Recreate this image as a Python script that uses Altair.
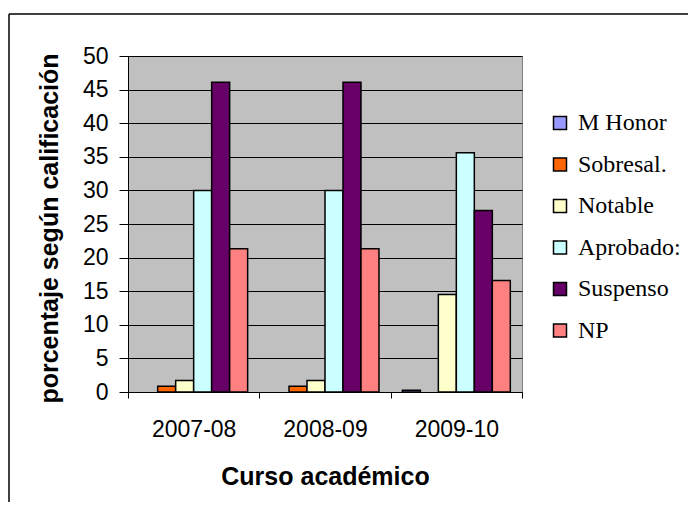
import altair as alt
import pandas as pd

cursos = ["2007-08", "2008-09", "2009-10"]
series = ["M Honor", "Sobresal.", "Notable", "Aprobado:", "Suspenso", "NP"]
colores = ["#9999FF", "#FF6600", "#FFFFCC", "#CCFFFF", "#660066", "#FF8080"]
m_honor = [0, 0, 0.25]
sobresal = [0.85, 0.85, 0]
notable = [1.7, 1.7, 14.5]
aprobado = [30.0, 30.0, 35.6]
suspenso = [46.1, 46.1, 27.0]
np_vals = [21.3, 21.3, 16.6]

valores = [m_honor, sobresal, notable, aprobado, suspenso, np_vals]
rows = []
for s, vals in zip(series, valores):
    for c, v in zip(cursos, vals):
        rows.append({"curso": c, "serie": s, "valor": v})
df = pd.DataFrame(rows)

bars = alt.Chart(df).transform_filter("datum.valor > 0").mark_bar(
    stroke="black", strokeWidth=1.5
).encode(
    x=alt.X("curso:N", sort=cursos,
            scale=alt.Scale(paddingInner=0, paddingOuter=0),
            axis=alt.Axis(title="Curso académico", labelAngle=0, tickBand="extent",
                          tickSize=6, labelPadding=20, labelFontSize=23,
                          labelFont="Liberation Sans", labelColor="black",
                          titleFont="Liberation Sans", titleFontSize=25, titleFontWeight="bold",
                          titleColor="black", titleBaseline="alphabetic", titleX=197, titleY=92,
                          titleAnchor="middle",
                          domainColor="black", tickColor="black", grid=False)),
    xOffset=alt.XOffset("serie:N", sort=series,
                        scale=alt.Scale(paddingInner=0, paddingOuter=0.65)),
    y=alt.Y("valor:Q", scale=alt.Scale(domain=[0, 50], nice=False),
            axis=alt.Axis(title="porcentaje según calificación", values=list(range(0, 51, 5)),
                          tickSize=9, labelPadding=11, labelFontSize=23,
                          labelFont="Liberation Sans", labelColor="black",
                          titleFont="Liberation Sans", titleFontSize=25, titleFontWeight="bold",
                          titleColor="black", titleBaseline="alphabetic", titleAngle=270,
                          titleX=-71, titleY=172, titleAlign="center",
                          domainColor="black", tickColor="black",
                          gridColor="black", gridWidth=1, gridOpacity=1)),
    color=alt.Color("serie:N", sort=series,
                    scale=alt.Scale(domain=series, range=colores),
                    legend=alt.Legend(title=None, orient="none", legendX=420, legendY=55,
                                      symbolType="square", symbolSize=169,
                                      symbolStrokeColor="black", symbolStrokeWidth=1.5,
                                      symbolOpacity=1,
                                      labelFont="Liberation Serif", labelFontSize=24,
                                      labelColor="black", rowPadding=17.5, labelOffset=6)),
)

frame = pd.DataFrame({"k": [0]})
left_line = alt.Chart(frame).mark_rule(color="black", strokeWidth=1.5).encode(
    x=alt.value(-119), y=alt.value(-42), y2=alt.value(600)
)
top_line = alt.Chart(frame).mark_rule(color="black", strokeWidth=1.5).encode(
    x=alt.value(-119), x2=alt.value(700), y=alt.value(-42)
)

chart = alt.layer(bars, left_line, top_line).properties(
    width=394, height=336,
    autosize=alt.AutoSizeParams(type="none"),
    padding={"left": 120, "top": 48, "right": 166, "bottom": 110},
).configure(
    background="white",
    view=alt.ViewConfig(fill="#C0C0C0", stroke="#808080", strokeWidth=1),
)

chart.save("out.html", embed_options={"renderer": "svg", "actions": False})
